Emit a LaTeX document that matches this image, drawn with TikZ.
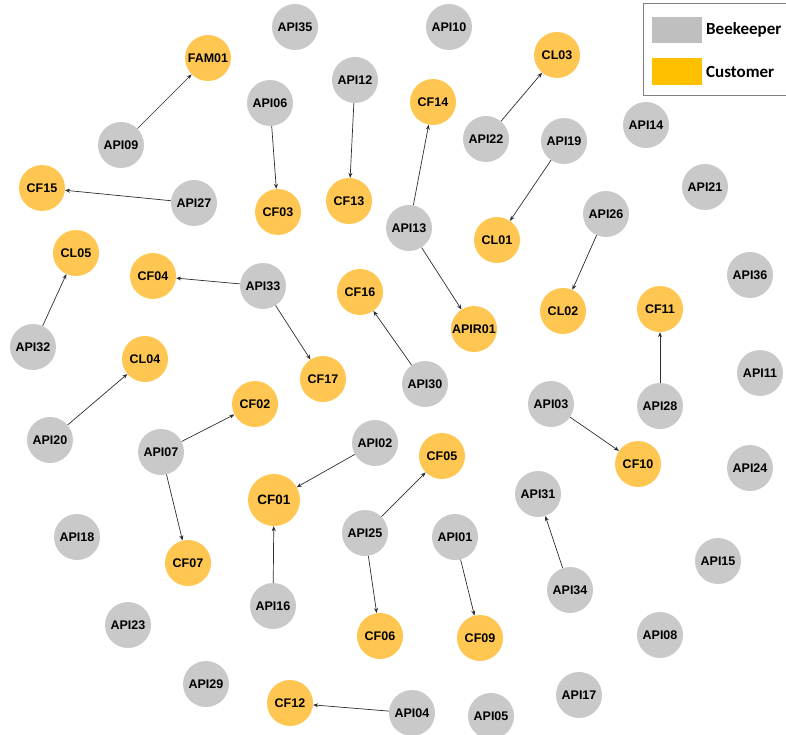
\documentclass[tikz,border=0pt]{standalone}
\usepackage{fontspec}
\setmainfont{Liberation Sans}
\newfontfamily\legendfont{Carlito}
\usetikzlibrary{arrows.meta}
\definecolor{beegray}{RGB}{201,201,201}
\definecolor{custorange}{RGB}{255,199,82}
\definecolor{legorange}{RGB}{255,192,0}
\definecolor{leggray}{RGB}{191,191,191}
\definecolor{edgecol}{RGB}{45,45,45}
\begin{document}
\begin{tikzpicture}[x=1pt, y=-1pt,
    bee/.style={circle, fill=beegray, minimum size=46pt, inner sep=0pt,
                font=\fontsize{12.5}{12.5}\selectfont\bfseries},
    cust/.style={bee, fill=custorange},
    legtext/.style={anchor=west, inner sep=1pt, font=\legendfont\fontsize{17}{17}\selectfont\bfseries},
    link/.style={-{Stealth[length=5pt,width=4pt]}, edgecol, line width=0.7pt}]
    \useasboundingbox (0,0) rectangle (786,735);
    \clip (0,0) rectangle (786,735);
    % Legend
    \draw[gray, line width=0.8pt] (643,3) rectangle (800,95);
    \fill[leggray] (652,17) rectangle (702,43);
    \fill[legorange] (652,58) rectangle (702,85);
    \node[legtext] (legbee) at (705,30) {Beekeeper};
    \node[legtext] (legcust) at (705,72) {Customer};
    % Beekeepers
    \node[bee] (api35) at (295,27) {API35};
    \node[bee] (api10) at (449,27) {API10};
    \node[bee] (api12) at (355,80) {API12};
    \node[bee] (api06) at (270,103) {API06};
    \node[bee] (api09) at (121,145) {API09};
    \node[bee] (api22) at (486,139) {API22};
    \node[bee] (api14) at (646,125) {API14};
    \node[bee] (api19) at (564,141) {API19};
    \node[bee] (api21) at (705,187) {API21};
    \node[bee] (api27) at (194,203) {API27};
    \node[bee] (api13) at (409,228) {API13};
    \node[bee] (api26) at (606,214) {API26};
    \node[bee] (api33) at (263,286) {API33};
    \node[bee] (api36) at (750,275) {API36};
    \node[bee] (api32) at (33,347) {API32};
    \node[bee] (api30) at (425,384) {API30};
    \node[bee] (api11) at (760,373) {API11};
    \node[bee] (api03) at (551,404) {API03};
    \node[bee] (api28) at (660,406) {API28};
    \node[bee] (api20) at (50,440) {API20};
    \node[bee] (api07) at (161,452) {API07};
    \node[bee] (api02) at (375,443) {API02};
    \node[bee] (api24) at (750,468) {API24};
    \node[bee] (api31) at (538,494) {API31};
    \node[bee] (api25) at (365,533) {API25};
    \node[bee] (api01) at (455,537) {API01};
    \node[bee] (api18) at (77,537) {API18};
    \node[bee] (api15) at (718,561) {API15};
    \node[bee] (api34) at (570,590) {API34};
    \node[bee] (api16) at (273,606) {API16};
    \node[bee] (api23) at (128,625) {API23};
    \node[bee] (api08) at (660,635) {API08};
    \node[bee] (api29) at (206,684) {API29};
    \node[bee] (api04) at (412,713) {API04};
    \node[bee] (api05) at (491,716) {API05};
    \node[bee] (api17) at (579,695) {API17};
    % Customers
    \node[cust] (fam01) at (208,58) {FAM01};
    \node[cust] (cl03) at (557,55) {CL03};
    \node[cust] (cf14) at (433,102) {CF14};
    \node[cust] (cf15) at (42,188) {CF15};
    \node[cust] (cf03) at (278,212) {CF03};
    \node[cust] (cf13) at (349,201) {CF13};
    \node[cust] (cl01) at (497,240) {CL01};
    \node[cust] (cl05) at (76,253) {CL05};
    \node[cust] (cf04) at (153,276) {CF04};
    \node[cust] (cf16) at (360,292) {CF16};
    \node[cust] (apir01) at (474,329) {APIR01};
    \node[cust] (cl02) at (563,311) {CL02};
    \node[cust] (cf11) at (660,309) {CF11};
    \node[cust] (cl04) at (145,359) {CL04};
    \node[cust] (cf17) at (323,379) {CF17};
    \node[cust] (cf02) at (255,404) {CF02};
    \node[cust] (cf05) at (442,456) {CF05};
    \node[cust] (cf10) at (638,464) {CF10};
    \node[cust, minimum size=52pt, font=\fontsize{13.5}{13.5}\selectfont\bfseries] (cf01) at (274,500) {CF01};
    \node[cust] (cf07) at (188,563) {CF07};
    \node[cust] (cf06) at (380,636) {CF06};
    \node[cust] (cf09) at (480,638) {CF09};
    \node[cust] (cf12) at (290,703) {CF12};
    % Links
    \draw[link] (api09) -- (fam01);
    \draw[link] (api06) -- (cf03);
    \draw[link] (api12) -- (cf13);
    \draw[link] (api13) -- (cf14);
    \draw[link] (api13) -- (apir01);
    \draw[link] (api22) -- (cl03);
    \draw[link] (api19) -- (cl01);
    \draw[link] (api26) -- (cl02);
    \draw[link] (api27) -- (cf15);
    \draw[link] (api32) -- (cl05);
    \draw[link] (api33) -- (cf04);
    \draw[link] (api33) -- (cf17);
    \draw[link] (api30) -- (cf16);
    \draw[link] (api28) -- (cf11);
    \draw[link] (api03) -- (cf10);
    \draw[link] (api20) -- (cl04);
    \draw[link] (api07) -- (cf02);
    \draw[link] (api07) -- (cf07);
    \draw[link] (api02) -- (cf01);
    \draw[link] (api16) -- (cf01);
    \draw[link] (api25) -- (cf05);
    \draw[link] (api25) -- (cf06);
    \draw[link] (api01) -- (cf09);
    \draw[link] (api34) -- (api31);
    \draw[link] (api04) -- (cf12);
\end{tikzpicture}
\end{document}
